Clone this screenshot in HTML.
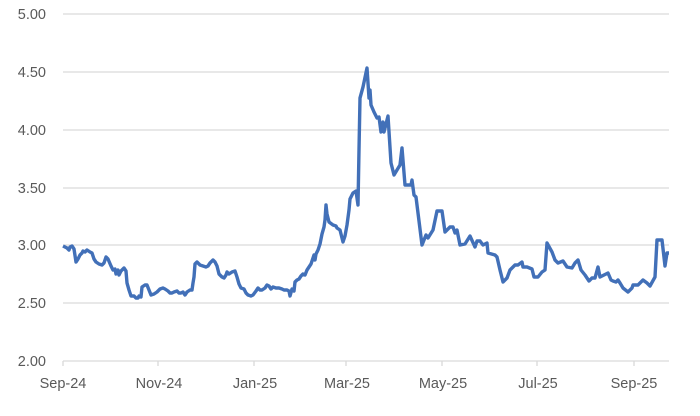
<!DOCTYPE html>
<html><head><style>
body{margin:0;background:#fff;}
svg text{font-family:"Liberation Sans",sans-serif;font-size:14.5px;fill:#595959;}
</style></head><body>
<svg width="700" height="411" viewBox="0 0 700 411">
<g stroke="#d9d9d9" stroke-width="1.3">
<line x1="63" y1="14" x2="669" y2="14"/>
<line x1="63" y1="72" x2="669" y2="72"/>
<line x1="63" y1="130" x2="669" y2="130"/>
<line x1="63" y1="188" x2="669" y2="188"/>
<line x1="63" y1="245" x2="669" y2="245"/>
<line x1="63" y1="303" x2="669" y2="303"/>
<line x1="63" y1="361" x2="669" y2="361"/>
<line x1="63" y1="361" x2="63" y2="366"/>
<line x1="158" y1="361" x2="158" y2="366"/>
<line x1="254" y1="361" x2="254" y2="366"/>
<line x1="346" y1="361" x2="346" y2="366"/>
<line x1="442" y1="361" x2="442" y2="366"/>
<line x1="537" y1="361" x2="537" y2="366"/>
<line x1="634" y1="361" x2="634" y2="366"/>
</g>
<g text-anchor="end">
<text x="46" y="19">5.00</text><text x="46" y="77">4.50</text><text x="46" y="135">4.00</text>
<text x="46" y="193">3.50</text><text x="46" y="250">3.00</text><text x="46" y="308">2.50</text><text x="46" y="366">2.00</text>
</g>
<g text-anchor="middle">
<text x="63" y="388">Sep-24</text><text x="159" y="388">Nov-24</text><text x="255" y="388">Jan-25</text>
<text x="347" y="388">Mar-25</text><text x="443" y="388">May-25</text><text x="538" y="388">Jul-25</text><text x="634" y="388">Sep-25</text>
</g>
<polyline fill="none" stroke="#4270b8" stroke-width="3.4" stroke-linejoin="round" points="
63,246 67,248 69,250 70,247 72,246 74,249 76,262 78,259 80,255 82,253 83,251 85,252 87,250 90,252 92,253 94,259 96,262 99,264 102,265 104,263 106,257 108,259 111,266 113,270 115,269 116,274 118,270 119,275 121,271 124,268 126,271 127,283 129,290 131,296 134,296 136,298 138,298 139,296 141,297 142,287 145,285 147,285 149,290 151,295 154,294 157,292 160,289 163,288 165,289 168,291 170,293 172,293 174,292 177,291 179,293 181,293 183,292 185,295 187,292 190,290 192,290 193,283 194,277 195,264 197,262 200,265 203,266 206,267 208,266 210,263 213,260 215,262 217,266 219,274 222,277 224,278 226,275 227,272 229,274 232,272 235,271 237,277 239,284 241,288 244,289 246,293 248,295 251,296 253,295 256,291 258,288 260,290 262,290 265,288 267,285 269,286 271,289 273,287 276,288 279,288 282,289 284,290 287,290 289,291 290,296 292,289 294,291 295,282 297,280 299,279 301,276 303,274 305,275 307,270 309,267 311,264 313,258 314,255 315,260 316,254 318,250 320,244 322,234 324,227 325,220 326,205 327,214 329,222 333,225 336,226 337,228 340,230 343,242 345,236 347,225 349,210 350,199 353,193 356,191 358,205 359,150 360,98 363,87 367,68 369,98 370,90 371,105 374,112 377,118 379,117 381,132 383,122 384,132 387,120 388,116 391,163 394,175 397,170 400,165 402,148 405,185 408,185 411,185 412,180 414,195 416,197 422,245 426,235 428,238 433,230 437,211 442,211 445,232 450,227 453,227 455,233 457,230 460,245 465,244 470,236 475,247 477,241 480,241 483,245 487,243 488,253 495,255 497,257 500,270 503,282 507,278 510,270 515,265 518,265 522,262 523,267 527,267 532,269 534,277 538,277 542,272 545,270 547,243 552,252 555,260 558,263 563,261 567,267 572,268 575,263 578,260 581,270 585,275 589,281 592,278 595,278 598,267 600,277 604,275 608,273 611,280 613,281 616,282 618,280 620,283 623,288 628,292 632,288 633,285 638,285 643,280 647,283 650,286 655,277 657,240 662,240 665,266 667,253 669,253"/>
</svg>
</body></html>
